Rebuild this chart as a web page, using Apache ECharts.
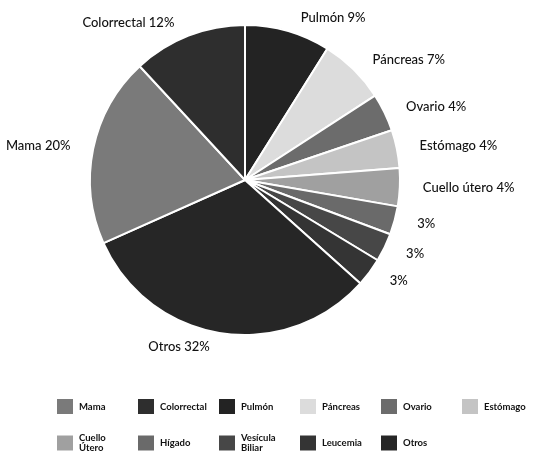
<!DOCTYPE html>
<html>
<head>
<meta charset="utf-8">
<script src="https://cdn.jsdelivr.net/npm/echarts@6/dist/echarts.min.js"></script>
<style>
  html, body { margin: 0; padding: 0; background: #fff; }
  #chart { width: 541px; height: 462px; }
</style>
</head>
<body>
<div id="chart"></div>
<script>
// Cancer types in clockwise order, starting at 12 o'clock
const categories = ['Pulmón', 'Páncreas', 'Ovario', 'Estómago', 'Cuello útero',
  'Hígado', 'Vesícula Biliar', 'Leucemia', 'Otros', 'Mama', 'Colorrectal'];
const percents = [9, 7, 4, 4, 4, 3, 3, 3, 32, 20, 12];
// Slices whose label shows only the percentage
const percentOnly = ['Hígado', 'Vesícula Biliar', 'Leucemia'];
const sliceColors = ['#232323', '#dcdcdc', '#6c6c6c', '#c4c4c4', '#a0a0a0',
  '#6a6a6a', '#474747', '#343434', '#262626', '#7a7a7a', '#2e2e2e'];

// Legend rows
const legendRow1 = ['Mama', 'Colorrectal', 'Pulmón', 'Páncreas', 'Ovario', 'Estómago'];
const legendRow2 = ['Cuello útero', 'Hígado', 'Vesícula Biliar', 'Leucemia', 'Otros'];
const legendText = { 'Cuello útero': 'Cuello\nÚtero', 'Vesícula Biliar': 'Vesícula\nBiliar' };

const font = 'Lato, "Noto Sans", sans-serif';

const legendBase = {
  orient: 'horizontal',
  left: 55,
  width: 700,
  padding: 0,
  itemWidth: 18,
  itemHeight: 17,
  itemGap: 4,
  itemTextGap: 4,
  icon: 'rect',
  formatter: n => legendText[n] || n,
  textStyle: { fontFamily: font, fontSize: 9.5, fontWeight: 'bold', color: '#111', width: 53, lineHeight: 10 }
};

const chart = echarts.init(document.getElementById('chart'));
chart.setOption({
  animation: false,
  color: sliceColors,
  legend: [
    Object.assign({}, legendBase, { top: 397, data: legendRow1 }),
    Object.assign({}, legendBase, { top: 433, data: legendRow2 })
  ],
  series: [{
    type: 'pie',
    center: [245, 180],
    radius: [0, 155],
    startAngle: 90,
    clockwise: true,
    avoidLabelOverlap: false,
    itemStyle: { borderColor: '#fff', borderWidth: 2 },
    label: {
      show: true,
      position: 'outside',
      fontFamily: font,
      fontSize: 13,
      fontWeight: 500,
      color: '#111',
      formatter: p => percentOnly.includes(p.name) ? p.value + '%' : p.name + ' ' + p.value + '%'
    },
    labelLine: { show: false, length: 14, length2: 4 },
    data: categories.map((c, i) => ({ name: c, value: percents[i] }))
  }]
});
</script>
</body>
</html>
